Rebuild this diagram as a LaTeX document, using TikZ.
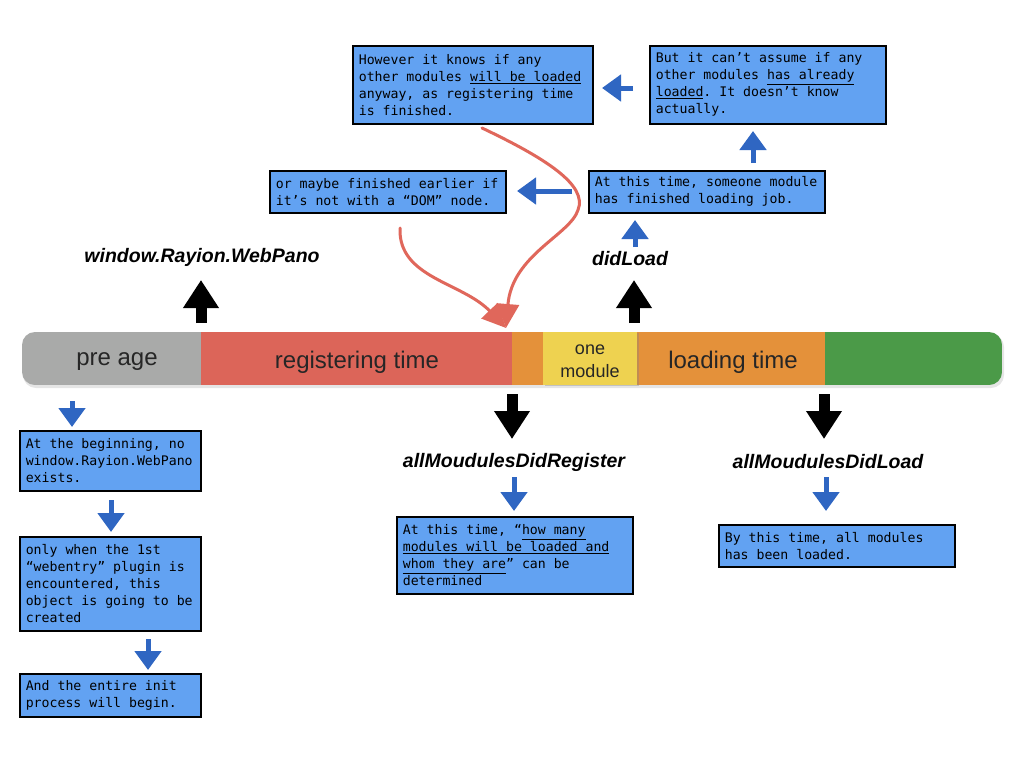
\documentclass[tikz,border=0pt]{standalone}
\usepackage{fontspec}
\setmainfont{Liberation Sans}
\newfontfamily\monof{DejaVu Sans Mono}
\usetikzlibrary{arrows.meta,shadows}
\definecolor{boxblue}{HTML}{62A2F2}
\definecolor{arrblue}{HTML}{2F66C2}
\definecolor{curvred}{HTML}{E0675B}
\definecolor{cgray}{HTML}{A9AAA9}
\definecolor{cred}{HTML}{DC6559}
\definecolor{corange}{HTML}{E4913A}
\definecolor{cyellow}{HTML}{EED250}
\definecolor{cgreen}{HTML}{4B9A48}
\newcommand\monoset{\monof\fontsize{13.2}{17}\selectfont}
\newcommand\monosp{\spaceskip=\fontdimen2\font\relax\xspaceskip=\fontdimen2\font\relax}
\tikzset{
 box/.style={draw=black, line width=1.6pt, fill=boxblue, anchor=north west, inner xsep=6pt, inner ysep=0pt, align=left, font=\monoset, execute at begin node=\monosp},
 barrow/.style={draw=arrblue, line width=5pt, -{Triangle[width=26pt,length=19pt]}},
 karrow/.style={draw=black, line width=11pt, -{Triangle[width=34pt,length=28pt]}},
 rcurve/.style={draw=curvred, line width=3pt, line cap=round, -{Triangle[width=22pt,length=24pt]}},
 evlabel/.style={font=\bfseries\itshape\fontsize{19.5}{22}\selectfont},
 bartext/.style={font=\fontsize{24}{28}\selectfont, text=black!85},
}
\begin{document}
\begin{tikzpicture}[x=1pt,y=-1pt]
\useasboundingbox[fill=white] (0,0) rectangle (1024,768);

% timeline bar
\fill[black, opacity=0.10, rounded corners=13pt] (23,334) rectangle (1004,388);
\begin{scope}
\clip[rounded corners=13pt] (22,332) rectangle (1002,385);
\fill[cgray] (22,332) rectangle (201,385);
\fill[cred] (201,332) rectangle (512,385);
\fill[corange] (512,332) rectangle (825,385);
\fill[cgreen] (825,332) rectangle (1002,385);
\end{scope}
\fill[cyellow, drop shadow={shadow xshift=2pt, shadow yshift=-1pt, opacity=.35}] (543,332) rectangle (637,385);
\node[inner sep=0pt, align=center, font=\fontsize{18}{23}\selectfont, text=black!85] (onemod) at (590,361.5) {one\\module};
\node[bartext] (pre) at (117,362) {pre age};
\node[bartext] (reg) at (357,362) {registering time};
\node[bartext] (load) at (733,362) {loading time};

% event labels
\node[evlabel] (wrw) at (202,257) {window.Rayion.WebPano};
\node[evlabel] (dl) at (630,259) {didLoad};
\node[evlabel] (adr) at (514,462) {allMoudulesDidRegister};
\node[evlabel] (adl) at (828,462) {allMoudulesDidLoad};

% black arrows
\coordinate (k1s) at (201,323); \coordinate (k1e) at (201,280);
\coordinate (k2s) at (634,323); \coordinate (k2e) at (634,280);
\coordinate (k3s) at (512,394); \coordinate (k3e) at (512,439);
\coordinate (k4s) at (824,394); \coordinate (k4e) at (824,439);
\draw[karrow] (k1s) -- (k1e);
\draw[karrow] (k2s) -- (k2e);
\draw[karrow] (k3s) -- (k3e);
\draw[karrow] (k4s) -- (k4e);

% boxes
\node[box, text width=228pt, minimum height=78pt] (A) at (352,45)
 {However it knows if any\\other modules \underline{will be loaded}\\anyway, as registering time\\is finished.};
\node[box, text width=224pt, minimum height=78pt] (B) at (649,45)
 {But it can’t assume if any\\other modules \underline{has already}\\\underline{loaded}. It doesn’t know\\actually.};
\node[box, text width=224pt, minimum height=42pt] (C) at (269,170)
 {or maybe finished earlier if\\it’s not with a “DOM” node.};
\node[box, text width=224pt, minimum height=42pt] (D) at (588,170)
 {At this time, someone module\\has finished loading job.};
\node[box, text width=169pt, minimum height=60pt] (E) at (19,430)
 {At the beginning, no\\window.Rayion.WebPano\\exists.};
\node[box, text width=169pt, minimum height=94pt] (F) at (19,536)
 {only when the 1st\\“webentry” plugin is\\encountered, this\\object is going to be\\created};
\node[box, text width=169pt, minimum height=43pt] (G) at (19,673)
 {And the entire init\\process will begin.};
\node[box, text width=224pt, minimum height=77pt] (H) at (396,516)
 {At this time, “\underline{how many}\\\underline{modules will be loaded and}\\\underline{whom they are}” can be\\determined};
\node[box, text width=224pt, minimum height=42pt] (I) at (718,524)
 {By this time, all modules\\has been loaded.};

% blue arrows
\coordinate (b1s) at (72,401);  \coordinate (b1e) at (72,427);
\coordinate (b2s) at (111,500); \coordinate (b2e) at (111,532);
\coordinate (b3s) at (148,639); \coordinate (b3e) at (148,670);
\coordinate (b4s) at (514,477); \coordinate (b4e) at (514,511);
\coordinate (b5s) at (826,477); \coordinate (b5e) at (826,511);
\coordinate (b6s) at (635,247); \coordinate (b6e) at (635,220);
\coordinate (b7s) at (753,163); \coordinate (b7e) at (753,131);
\coordinate (b8s) at (572,191); \coordinate (b8e) at (517,191);
\coordinate (b9s) at (633,88);  \coordinate (b9e) at (602,88);
\foreach \i in {1,...,9} {\draw[barrow] (b\i s) -- (b\i e);}

% red curves
\coordinate (r1s) at (482,128);
\coordinate (r2s) at (400,228);
\coordinate (rtip) at (506,328);
\draw[rcurve] (r1s) .. controls (545,158) and (588,185) .. (578,210)
  .. controls (570,235) and (512,255) .. (rtip);
\draw[rcurve] (r2s) .. controls (398,278) and (462,282) .. (rtip);
\end{tikzpicture}
\end{document}
